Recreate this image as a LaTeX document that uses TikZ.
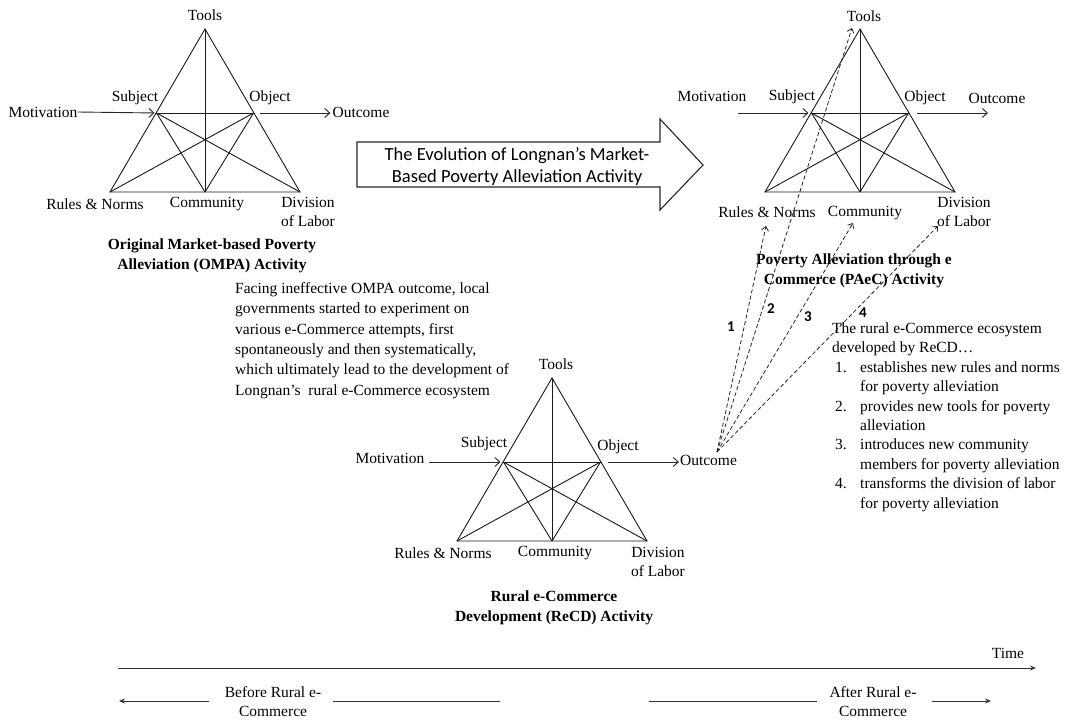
\documentclass[tikz,border=0pt]{standalone}
\usepackage{fontspec}
\setmainfont{Liberation Serif}
\newfontfamily\carlito{Carlito}
\usetikzlibrary{arrows.meta}
\newcommand\actri[3]{%
  \begin{scope}[shift={(#2,#3)}]
    \coordinate (#1T) at (0,0);
    \coordinate (#1L) at (-95,163);
    \coordinate (#1C) at (0,163);
    \coordinate (#1R) at (95,163);
    \coordinate (#1S) at (-48.5,84);
    \coordinate (#1O) at (48.5,84);
  \end{scope}
  \draw[tri] (#1T) -- (#1L) -- (#1R) -- cycle;
  \draw[tri] (#1T) -- (#1C);
  \draw[tri] (#1S) -- (#1O);
  \draw[tri] (#1S) -- (#1C);
  \draw[tri] (#1S) -- (#1R);
  \draw[tri] (#1O) -- (#1L);
  \draw[tri] (#1O) -- (#1C);
}
\begin{document}
\begin{tikzpicture}[x=1pt,y=-1pt,
  tri/.style={line width=0.9pt, draw=black!90, line join=miter},
  arr/.style={line width=0.9pt, draw=black!85, -{Straight Barb[length=5pt,width=9pt]}},
  dsh/.style={line width=0.8pt, draw=black!85, dash pattern=on 4pt off 2.5pt, -{Straight Barb[length=4pt,width=7pt]}},
  lbl/.style={font=\fontsize{15.5}{19}\selectfont, inner sep=0pt, align=center},
  captxt/.style={font=\fontsize{15.5}{20}\selectfont\bfseries, inner sep=0pt, align=center},
  num/.style={font=\carlito\bfseries\fontsize{15}{18}\selectfont, inner sep=0pt},
  tl/.style={line width=1pt, draw=black!80},
  tlarr/.style={line width=1pt, draw=black!80, -{Stealth[length=6pt,width=5pt]}}
]
\useasboundingbox (0,0) rectangle (1077,723);

% ---------- triangle 1 : OMPA ----------
\actri{a}{205}{29}
\node[lbl] (atools) at (205,15) {Tools};
\node[lbl] (asub) at (135,98) {Subject};
\node[lbl] (aobj) at (270,98) {Object};
\node[lbl] (am) at (43,112) {Motivation};
\node[lbl] (ao) at (361,112) {Outcome};
\node[lbl] (arn) at (95,204) {Rules \& Norms};
\node[lbl] (acom) at (207,204) {Community};
\node[lbl] (adiv) at (308,212) {Division\\of Labor};
\node[captxt] (acap) at (212,256) {Original Market-based Poverty\\Alleviation (OMPA) Activity};
\draw[arr, shorten >=2pt] (am.east) -- (aS);
\draw[arr, shorten <=6pt, shorten >=2pt] (aO) -- (ao.west |- aO);

% ---------- big evolution arrow ----------
\draw[line width=1.1pt, draw=black!85, line join=miter]
  (357,142) -- (660,142) -- (660,119) -- (703,165) -- (660,210) -- (660,187) -- (357,187) -- cycle;
\node[font=\carlito\fontsize{18.5}{22}\selectfont, align=center, inner sep=0pt] (evo) at (517,166)
  {The Evolution of Longnan’s Market-\\Based Poverty Alleviation Activity};

% ---------- triangle 2 : PAeC ----------
\actri{b}{860}{29}
\node[lbl] (btools) at (864,16) {Tools};
\node[lbl] (bsub) at (792,97) {Subject};
\node[lbl] (bobj) at (925,98) {Object};
\node[lbl] (bm) at (712,96) {Motivation};
\node[lbl] (bo) at (997,98) {Outcome};
\node[lbl] (brn) at (767,212) {Rules \& Norms};
\node[lbl] (bcom) at (865,213) {Community};
\node[lbl] (bdiv) at (964,212) {Division\\of Labor};
\node[captxt] (bcap) at (854,271) {Poverty Alleviation through e\\Commerce (PAeC) Activity};
\coordinate (bma) at (738,113);
\coordinate (boa) at (988,113);
\draw[arr, shorten >=3pt] (bma) -- (bS);
\draw[arr, shorten <=8pt] (bO) -- (boa);

% ---------- triangle 3 : ReCD ----------
\actri{c}{552}{378}
\node[lbl] (ctools) at (556,364) {Tools};
\node[lbl] (csub) at (484,444) {Subject};
\node[lbl] (cobj) at (618,447) {Object};
\node[lbl] (cm) at (390,458) {Motivation};
\node[lbl] (co) at (708.5,460) {Outcome};
\node[lbl] (crn) at (443,553) {Rules \& Norms};
\node[lbl] (ccom) at (555,553) {Community};
\node[lbl] (cdiv) at (658,562) {Division\\of Labor};
\node[captxt] (ccap) at (554,608) {Rural e-Commerce\\Development (ReCD) Activity};
\coordinate (cma) at (429,462);
\draw[arr, shorten >=3pt] (cma) -- (cS);
\draw[arr, shorten <=7pt, shorten >=1pt] (cO) -- (co.west |- cO);

% ---------- explanatory texts ----------
\node[font=\fontsize{15.5}{20.3}\selectfont, align=left, inner sep=0pt, anchor=west] (face) at (235,340.5)
  {Facing ineffective OMPA outcome, local\\governments started to experiment on\\various e-Commerce attempts, first\\spontaneously and then systematically,\\which ultimately lead to the development of\\Longnan’s\ \ rural e-Commerce ecosystem};

\node[inner sep=0pt, anchor=west] (eco) at (832,417)
  {\fontsize{15.5}{19.4}\selectfont
   \begin{tabular}{@{}p{28pt}@{}l@{}}
   \multicolumn{2}{@{}l@{}}{The rural e-Commerce ecosystem}\\
   \multicolumn{2}{@{}l@{}}{developed by ReCD…}\\
   \hspace{3pt}1. & establishes new rules and norms\\
    & for poverty alleviation\\
   \hspace{3pt}2. & provides new tools for poverty\\
    & alleviation\\
   \hspace{3pt}3. & introduces new community\\
    & members for poverty alleviation\\
   \hspace{3pt}4. & transforms the division of labor\\
    & for poverty alleviation
   \end{tabular}};

% ---------- dashed influence arrows ----------
\coordinate (dorig) at (717,452);
\coordinate (e1) at (766,226);
\coordinate (e2) at (852,28);
\coordinate (e3) at (853,223);
\coordinate (e4) at (938,226);
\draw[dsh] (dorig) -- (e1);
\draw[dsh] (dorig) -- (e2);
\draw[dsh] (dorig) -- (e3);
\draw[dsh] (dorig) -- (e4);
\node[num] (n1) at (731,327) {1};
\node[num] (n2) at (771,309) {2};
\node[num] (n3) at (808,317) {3};
\node[num] (n4) at (863,313) {4};

% ---------- timeline ----------
\coordinate (tl0) at (118,668);
\coordinate (tl1) at (1036,668);
\draw[tlarr] (tl0) -- (tl1);
\node[lbl] (time) at (1008,653) {Time};
\node[lbl] (before) at (273,702) {Before Rural e-\\Commerce};
\node[lbl] (after) at (873,702) {After Rural e-\\Commerce};
\coordinate (la0) at (209,701);
\coordinate (la1) at (119,701);
\coordinate (lb0) at (333,701);
\coordinate (lb1) at (500,701);
\coordinate (ra0) at (649,701);
\coordinate (ra1) at (817,701);
\coordinate (rb0) at (932,701);
\coordinate (rb1) at (991,701);
\draw[tlarr] (la0) -- (la1);
\draw[tl] (lb0) -- (lb1);
\draw[tl] (ra0) -- (ra1);
\draw[tlarr] (rb0) -- (rb1);
\end{tikzpicture}
\end{document}
